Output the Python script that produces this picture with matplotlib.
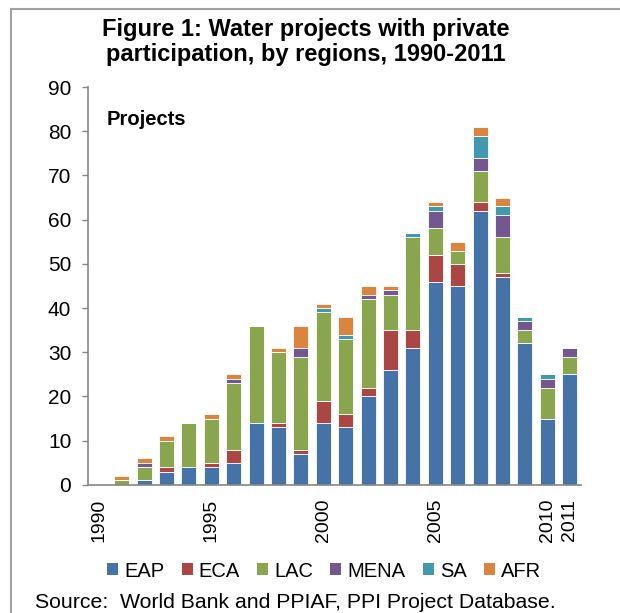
import matplotlib
matplotlib.use("Agg")
import matplotlib.pyplot as plt
from matplotlib.lines import Line2D
from matplotlib.patches import Patch
import numpy as np

plt.rcParams['font.family'] = ['Liberation Sans', 'DejaVu Sans']

years = list(range(1990, 2012))
shown_years = [1990, 1995, 2000, 2005, 2010, 2011]

regions = ['EAP', 'ECA', 'LAC', 'MENA', 'SA', 'AFR']
colors = ['#4572A7', '#AA4643', '#89A54E', '#71588F', '#4198AF', '#DB843D']

eap = [0, 0, 1, 3, 4, 4, 5, 14, 13, 7, 14, 13, 20, 26, 31, 46, 45, 62, 47, 32, 15, 25]
eca = [0, 0, 0, 1, 0, 1, 3, 0, 1, 1, 5, 3, 2, 9, 4, 6, 5, 2, 1, 0, 0, 0]
lac = [0, 1, 3, 6, 10, 10, 15, 22, 16, 21, 20, 17, 20, 8, 21, 6, 3, 7, 8, 3, 7, 4]
mena = [0, 0, 1, 0, 0, 0, 1, 0, 0, 2, 0, 0, 1, 1, 0, 4, 0, 3, 5, 2, 2, 2]
sa = [0, 0, 0, 0, 0, 0, 0, 0, 0, 0, 1, 1, 0, 0, 1, 1, 0, 5, 2, 1, 1, 0]
afr = [0, 1, 1, 1, 0, 1, 1, 0, 1, 5, 1, 4, 2, 1, 0, 1, 2, 2, 2, 0, 0, 0]

series = [eap, eca, lac, mena, sa, afr]

fig = plt.figure(figsize=(6.2, 6.13), dpi=100)
ax = fig.add_axes([0.142, 0.209, 0.795, 0.649])

x = np.arange(len(years))
bottom = np.zeros(len(years))
for vals, name, col in zip(series, regions, colors):
    vals = np.array(vals)
    ax.bar(x, vals, width=0.67, bottom=bottom, color=col, label=name,
           edgecolor='white', linewidth=0.6)
    bottom += vals

ax.set_xlim(-0.5, len(years) - 0.5)
ax.set_ylim(0, 90)
ax.set_yticks(range(0, 91, 10))
ax.set_xticks([years.index(y) for y in shown_years])
ax.set_xticklabels([str(y) for y in shown_years], rotation=90, va='top')

ax.tick_params(axis='y', labelsize=15, length=4, width=1, color='#868686', pad=8)
ax.tick_params(axis='x', labelsize=14, length=0, pad=10)

for s in ['top', 'right']:
    ax.spines[s].set_visible(False)
for s in ['left', 'bottom']:
    ax.spines[s].set_color('#868686')
    ax.spines[s].set_linewidth(1.2)

ax.text(0.038, 0.918, 'Projects', transform=ax.transAxes, fontsize=14.5,
        fontweight='bold', va='center', ha='left')

fig.text(0.4935, 0.931, 'Figure 1: Water projects with private\nparticipation, by regions, 1990-2011',
         ha='center', va='center', fontsize=17, fontweight='bold', linespacing=1.1)

handles = [Patch(facecolor=c, edgecolor='none') for c in colors]
fig.legend(handles, regions, loc='center', bbox_to_anchor=(0.5226, 0.0685), ncol=6,
           frameon=False, fontsize=14.5, handlelength=0.55, handleheight=0.55,
           handletextpad=0.3, columnspacing=0.85)

fig.text(0.0565, 0.017, 'Source:  World Bank and PPIAF, PPI Project Database.',
         ha='left', va='center', fontsize=15.3)

# gray frame around the figure (open to the right and bottom)
fl, ft = 11 / 620, 1 - 9 / 613
fig.add_artist(Line2D([fl, fl], [0, ft], transform=fig.transFigure, color='#A0A0A0', lw=1.5))
fig.add_artist(Line2D([fl, 1], [ft, ft], transform=fig.transFigure, color='#A0A0A0', lw=1.5))

fig.savefig('out.png', dpi=100)
